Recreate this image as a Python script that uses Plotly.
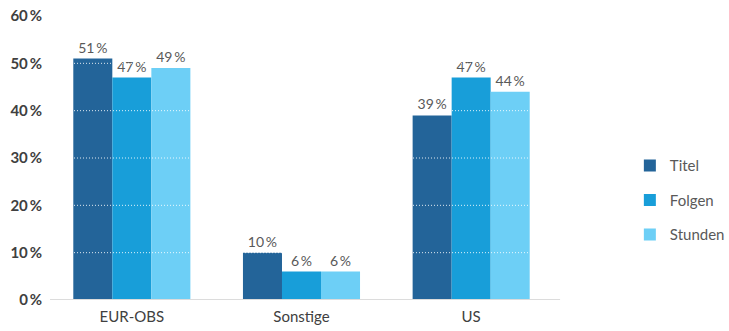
import plotly.graph_objects as go

# Share of titles, episodes and hours by origin
categories = ["EUR-OBS", "Sonstige", "US"]
series_names = ["Titel", "Folgen", "Stunden"]
titel = [51, 10, 39]
folgen = [47, 6, 47]
stunden = [49, 6, 44]
tick_values = [0, 10, 20, 30, 40, 50, 60]
tick_labels = ["0\u2009%", "10\u2009%", "20\u2009%", "30\u2009%", "40\u2009%", "50\u2009%", "60\u2009%"]

colors = ["#236499", "#189ED9", "#6DCFF6"]
font_family = "Lato, 'Open Sans', sans-serif"

fig = go.Figure()
for name, values, color in zip(series_names, [titel, folgen, stunden], colors):
    fig.add_trace(go.Bar(
        name=name,
        x=categories,
        y=values,
        marker=dict(color=color, line=dict(width=0)),
        text=[f"{v}\u2009%" for v in values],
        textposition="outside",
        textfont=dict(family=font_family, size=14, color="#595959"),
        cliponaxis=False,
        legendgroup=name,
    ))

# white dotted guide lines drawn over the bars
shapes = []
for v in tick_values[1:]:
    shapes.append(dict(
        type="line", xref="paper", yref="y", x0=0, x1=1, y0=v, y1=v,
        line=dict(color="rgba(255,255,255,0.85)", width=1, dash="1px,2px"),
        layer="above",
    ))
# baseline
shapes.append(dict(
    type="line", xref="paper", yref="y", x0=0.006, x1=1.008, y0=0, y1=0,
    line=dict(color="#dcdcdc", width=2), layer="above",
))

fig.update_layout(
    width=729,
    height=331,
    margin=dict(l=47, r=173, t=16, b=31, autoexpand=False),
    paper_bgcolor="white",
    plot_bgcolor="white",
    barmode="group",
    bargap=0.31,
    bargroupgap=0,
    shapes=shapes,
    font=dict(family=font_family, color="#404040"),
    legend=dict(
        xref="container", yref="container",
        x=0.864, y=0.395, xanchor="left", yanchor="middle",
        font=dict(family=font_family, size=15, color="#595959"),
        tracegroupgap=12,
        itemclick=False,
    ),
    xaxis=dict(
        showgrid=False, zeroline=False, showline=False, ticks="",
        tickfont=dict(family=font_family, size=15, color="#404040"),
        ticklabelstandoff=6,
        automargin=False,
    ),
    yaxis=dict(
        range=[0, 60],
        tickvals=tick_values,
        ticktext=[f"<b>{t}</b>" for t in tick_labels],
        showgrid=False, zeroline=False, showline=False, ticks="",
        tickfont=dict(family=font_family, size=15, color="#404040"),
        ticklabelstandoff=4,
        automargin=False,
    ),
)

fig.write_html("out.html")
